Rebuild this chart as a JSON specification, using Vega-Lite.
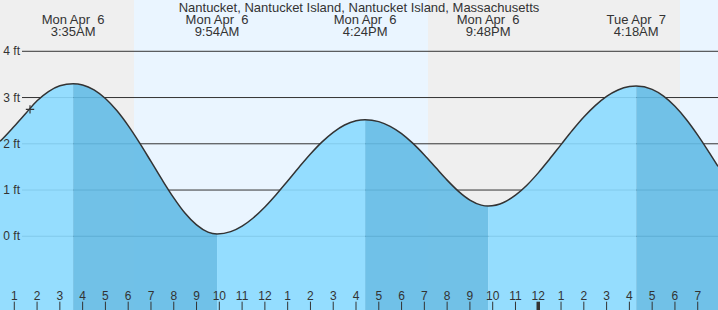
{
  "$schema": "https://vega.github.io/schema/vega-lite/v6.json",
  "width": 718,
  "height": 310,
  "padding": 0,
  "autosize": {"type": "none"},
  "background": "white",
  "config": {"view": {"stroke": null}, "text": {"font": "Liberation Sans"}},
  "datasets": {
    "sky": [
      {"start": 0.373, "end": 6.255, "kind": "night"},
      {"start": 6.255, "end": 19.16, "kind": "day"},
      {"start": 19.16, "end": 30.22, "kind": "night"},
      {"start": 30.22, "end": 31.89, "kind": "day"}
    ],
    "grid": [
      {"ft": 0, "label": "0 ft"},
      {"ft": 1, "label": "1 ft"},
      {"ft": 2, "label": "2 ft"},
      {"ft": 3, "label": "3 ft"},
      {"ft": 4, "label": "4 ft"}
    ],
    "tide": [
      {"t": 0.373, "ft": 2.055, "seg": "s1", "phase": "rise"},
      {"t": 0.5, "ft": 2.116, "seg": "s1", "phase": "rise"},
      {"t": 1.0, "ft": 2.38, "seg": "s1", "phase": "rise"},
      {"t": 1.5, "ft": 2.655, "seg": "s1", "phase": "rise"},
      {"t": 2.0, "ft": 2.93, "seg": "s1", "phase": "rise"},
      {"t": 2.5, "ft": 3.13, "seg": "s1", "phase": "rise"},
      {"t": 3.0, "ft": 3.255, "seg": "s1", "phase": "rise"},
      {"t": 3.583, "ft": 3.3, "seg": "s1", "phase": "rise"},
      {"t": 3.583, "ft": 3.3, "seg": "s2", "phase": "fall", "b": 1},
      {"t": 4.0, "ft": 3.273, "seg": "s2", "phase": "fall"},
      {"t": 4.5, "ft": 3.166, "seg": "s2", "phase": "fall"},
      {"t": 5.0, "ft": 2.979, "seg": "s2", "phase": "fall"},
      {"t": 5.5, "ft": 2.718, "seg": "s2", "phase": "fall"},
      {"t": 6.0, "ft": 2.392, "seg": "s2", "phase": "fall"},
      {"t": 6.5, "ft": 2.019, "seg": "s2", "phase": "fall"},
      {"t": 7.0, "ft": 1.618, "seg": "s2", "phase": "fall"},
      {"t": 7.5, "ft": 1.213, "seg": "s2", "phase": "fall"},
      {"t": 8.0, "ft": 0.83, "seg": "s2", "phase": "fall"},
      {"t": 8.5, "ft": 0.496, "seg": "s2", "phase": "fall"},
      {"t": 9.0, "ft": 0.245, "seg": "s2", "phase": "fall"},
      {"t": 9.5, "ft": 0.09, "seg": "s2", "phase": "fall"},
      {"t": 9.9, "ft": 0.05, "seg": "s2", "phase": "fall"},
      {"t": 9.9, "ft": 0.05, "seg": "s3", "phase": "rise", "b": 1},
      {"t": 10.5, "ft": 0.1, "seg": "s3", "phase": "rise"},
      {"t": 11.0, "ft": 0.22, "seg": "s3", "phase": "rise"},
      {"t": 11.5, "ft": 0.401, "seg": "s3", "phase": "rise"},
      {"t": 12.0, "ft": 0.633, "seg": "s3", "phase": "rise"},
      {"t": 12.5, "ft": 0.903, "seg": "s3", "phase": "rise"},
      {"t": 13.0, "ft": 1.196, "seg": "s3", "phase": "rise"},
      {"t": 13.5, "ft": 1.493, "seg": "s3", "phase": "rise"},
      {"t": 14.0, "ft": 1.778, "seg": "s3", "phase": "rise"},
      {"t": 14.5, "ft": 2.035, "seg": "s3", "phase": "rise"},
      {"t": 15.0, "ft": 2.248, "seg": "s3", "phase": "rise"},
      {"t": 15.5, "ft": 2.406, "seg": "s3", "phase": "rise"},
      {"t": 16.0, "ft": 2.497, "seg": "s3", "phase": "rise"},
      {"t": 16.4, "ft": 2.52, "seg": "s3", "phase": "rise"},
      {"t": 16.4, "ft": 2.52, "seg": "s4", "phase": "fall", "b": 1},
      {"t": 17.0, "ft": 2.479, "seg": "s4", "phase": "fall"},
      {"t": 17.5, "ft": 2.378, "seg": "s4", "phase": "fall"},
      {"t": 18.0, "ft": 2.22, "seg": "s4", "phase": "fall"},
      {"t": 18.5, "ft": 2.008, "seg": "s4", "phase": "fall"},
      {"t": 19.0, "ft": 1.758, "seg": "s4", "phase": "fall"},
      {"t": 19.5, "ft": 1.485, "seg": "s4", "phase": "fall"},
      {"t": 20.0, "ft": 1.214, "seg": "s4", "phase": "fall"},
      {"t": 20.5, "ft": 0.971, "seg": "s4", "phase": "fall"},
      {"t": 21.0, "ft": 0.782, "seg": "s4", "phase": "fall"},
      {"t": 21.5, "ft": 0.674, "seg": "s4", "phase": "fall"},
      {"t": 21.8, "ft": 0.655, "seg": "s4", "phase": "fall"},
      {"t": 21.8, "ft": 0.655, "seg": "s5", "phase": "rise", "b": 1},
      {"t": 22.5, "ft": 0.737, "seg": "s5", "phase": "rise"},
      {"t": 23.0, "ft": 0.888, "seg": "s5", "phase": "rise"},
      {"t": 23.5, "ft": 1.104, "seg": "s5", "phase": "rise"},
      {"t": 24.0, "ft": 1.371, "seg": "s5", "phase": "rise"},
      {"t": 24.5, "ft": 1.67, "seg": "s5", "phase": "rise"},
      {"t": 25.0, "ft": 1.982, "seg": "s5", "phase": "rise"},
      {"t": 25.5, "ft": 2.291, "seg": "s5", "phase": "rise"},
      {"t": 26.0, "ft": 2.578, "seg": "s5", "phase": "rise"},
      {"t": 26.5, "ft": 2.825, "seg": "s5", "phase": "rise"},
      {"t": 27.0, "ft": 3.025, "seg": "s5", "phase": "rise"},
      {"t": 27.5, "ft": 3.164, "seg": "s5", "phase": "rise"},
      {"t": 28.0, "ft": 3.238, "seg": "s5", "phase": "rise"},
      {"t": 28.3, "ft": 3.25, "seg": "s5", "phase": "rise"},
      {"t": 28.3, "ft": 3.25, "seg": "s6", "phase": "fall", "b": 1},
      {"t": 29.0, "ft": 3.176, "seg": "s6", "phase": "fall"},
      {"t": 29.5, "ft": 3.03, "seg": "s6", "phase": "fall"},
      {"t": 30.0, "ft": 2.811, "seg": "s6", "phase": "fall"},
      {"t": 30.5, "ft": 2.526, "seg": "s6", "phase": "fall"},
      {"t": 31.0, "ft": 2.188, "seg": "s6", "phase": "fall"},
      {"t": 31.5, "ft": 1.814, "seg": "s6", "phase": "fall"},
      {"t": 31.89, "ft": 1.511, "seg": "s6", "phase": "fall"}
    ],
    "extremes": [
      {"t": 3.583, "day": "Mon Apr\u00a0 6", "time": "3:35AM"},
      {"t": 9.9, "day": "Mon Apr\u00a0 6", "time": "9:54AM"},
      {"t": 16.4, "day": "Mon Apr\u00a0 6", "time": "4:24PM"},
      {"t": 21.8, "day": "Mon Apr\u00a0 6", "time": "9:48PM"},
      {"t": 28.3, "day": "Tue Apr\u00a0 7", "time": "4:18AM"}
    ],
    "hours": [
      {"h": 1, "label": "1"}, {"h": 2, "label": "2"}, {"h": 3, "label": "3"},
      {"h": 4, "label": "4"}, {"h": 5, "label": "5"}, {"h": 6, "label": "6"},
      {"h": 7, "label": "7"}, {"h": 8, "label": "8"}, {"h": 9, "label": "9"},
      {"h": 10, "label": "10"}, {"h": 11, "label": "11"}, {"h": 12, "label": "12"},
      {"h": 13, "label": "1"}, {"h": 14, "label": "2"}, {"h": 15, "label": "3"},
      {"h": 16, "label": "4"}, {"h": 17, "label": "5"}, {"h": 18, "label": "6"},
      {"h": 19, "label": "7"}, {"h": 20, "label": "8"}, {"h": 21, "label": "9"},
      {"h": 22, "label": "10"}, {"h": 23, "label": "11"}, {"h": 24, "label": "12"},
      {"h": 25, "label": "1"}, {"h": 26, "label": "2"}, {"h": 27, "label": "3"},
      {"h": 28, "label": "4"}, {"h": 29, "label": "5"}, {"h": 30, "label": "6"},
      {"h": 31, "label": "7"}
    ],
    "now": [{"t": 1.69, "ft": 2.745}],
    "title": [{"t": 16.13, "text": "Nantucket, Nantucket Island, Nantucket Island, Massachusetts"}]
  },
  "layer": [
    {
      "data": {"name": "sky"},
      "mark": {"type": "rect"},
      "encoding": {
        "x": {"field": "start", "type": "quantitative", "scale": {"domain": [0.373, 31.89], "nice": false, "zero": false}, "axis": null},
        "x2": {"field": "end"},
        "color": {"field": "kind", "type": "nominal", "scale": {"domain": ["night", "day"], "range": ["#efefef", "#eaf5ff"]}, "legend": null}
      }
    },
    {
      "data": {"name": "grid"},
      "mark": {"type": "rule", "color": "#333333", "strokeWidth": 1},
      "encoding": {
        "y": {"field": "ft", "type": "quantitative", "scale": {"domain": [-1.594, 5.109], "nice": false, "zero": false}, "axis": null},
        "x": {"datum": 1.339, "type": "quantitative", "scale": {"domain": [0.373, 31.89], "nice": false, "zero": false}, "axis": null},
        "x2": {"datum": 31.89}
      }
    },
    {
      "data": {"name": "tide"},
      "mark": {"type": "area", "interpolate": "monotone", "opacity": 0.9},
      "encoding": {
        "x": {"field": "t", "type": "quantitative", "scale": {"domain": [0.373, 31.89], "nice": false, "zero": false}, "axis": null},
        "y": {"field": "ft", "type": "quantitative", "stack": null, "scale": {"domain": [-1.594, 5.109], "nice": false, "zero": false}, "axis": null},
        "y2": {"datum": -1.594},
        "detail": {"field": "seg", "type": "nominal"},
        "fill": {"field": "phase", "type": "nominal", "scale": {"domain": ["rise", "fall"], "range": ["#8bdaff", "#63bbe5"]}, "legend": null}
      }
    },
    {
      "data": {"name": "tide"},
      "transform": [{"filter": "datum.b != 1"}],
      "mark": {"type": "line", "interpolate": "monotone", "color": "#333333", "strokeWidth": 1.5},
      "encoding": {
        "x": {"field": "t", "type": "quantitative", "scale": {"domain": [0.373, 31.89], "nice": false, "zero": false}, "axis": null},
        "y": {"field": "ft", "type": "quantitative", "scale": {"domain": [-1.594, 5.109], "nice": false, "zero": false}, "axis": null}
      }
    },
    {
      "data": {"name": "grid"},
      "mark": {"type": "text", "align": "right", "baseline": "middle", "fontSize": 12, "color": "#333333"},
      "encoding": {
        "x": {"datum": 1.251, "type": "quantitative", "scale": {"domain": [0.373, 31.89], "nice": false, "zero": false}, "axis": null},
        "y": {"field": "ft", "type": "quantitative", "scale": {"domain": [-1.594, 5.109], "nice": false, "zero": false}, "axis": null},
        "text": {"field": "label"}
      }
    },
    {
      "data": {"name": "now"},
      "mark": {"type": "point", "shape": "M-1,0H1M0,-1V1", "filled": false, "stroke": "#333333", "strokeWidth": 1.2, "size": 70, "opacity": 1},
      "encoding": {
        "x": {"field": "t", "type": "quantitative", "scale": {"domain": [0.373, 31.89], "nice": false, "zero": false}, "axis": null},
        "y": {"field": "ft", "type": "quantitative", "scale": {"domain": [-1.594, 5.109], "nice": false, "zero": false}, "axis": null}
      }
    },
    {
      "data": {"name": "hours"},
      "mark": {"type": "rule", "color": "#333333"},
      "encoding": {
        "x": {"field": "h", "type": "quantitative", "scale": {"domain": [0.373, 31.89], "nice": false, "zero": false}, "axis": null},
        "y": {"datum": -1.414, "type": "quantitative", "scale": {"domain": [-1.594, 5.109], "nice": false, "zero": false}, "axis": null},
        "y2": {"datum": -1.594},
        "strokeWidth": {"condition": {"test": "datum.h == 24", "value": 3.5}, "value": 1}
      }
    },
    {
      "data": {"name": "hours"},
      "mark": {"type": "text", "align": "center", "baseline": "alphabetic", "fontSize": 12, "color": "#333333"},
      "encoding": {
        "x": {"field": "h", "type": "quantitative", "scale": {"domain": [0.373, 31.89], "nice": false, "zero": false}, "axis": null},
        "y": {"datum": -1.377, "type": "quantitative", "scale": {"domain": [-1.594, 5.109], "nice": false, "zero": false}, "axis": null},
        "text": {"field": "label"}
      }
    },
    {
      "data": {"name": "title"},
      "mark": {"type": "text", "align": "center", "baseline": "alphabetic", "fontSize": 13, "color": "#333333"},
      "encoding": {
        "x": {"field": "t", "type": "quantitative", "scale": {"domain": [0.373, 31.89], "nice": false, "zero": false}, "axis": null},
        "y": {"datum": 4.854, "type": "quantitative", "scale": {"domain": [-1.594, 5.109], "nice": false, "zero": false}, "axis": null},
        "text": {"field": "text"}
      }
    },
    {
      "data": {"name": "extremes"},
      "mark": {"type": "text", "align": "center", "baseline": "alphabetic", "fontSize": 13, "color": "#333333"},
      "encoding": {
        "x": {"field": "t", "type": "quantitative", "scale": {"domain": [0.373, 31.89], "nice": false, "zero": false}, "axis": null},
        "y": {"datum": 4.59, "type": "quantitative", "scale": {"domain": [-1.594, 5.109], "nice": false, "zero": false}, "axis": null},
        "text": {"field": "day"}
      }
    },
    {
      "data": {"name": "extremes"},
      "mark": {"type": "text", "align": "center", "baseline": "alphabetic", "fontSize": 13, "color": "#333333"},
      "encoding": {
        "x": {"field": "t", "type": "quantitative", "scale": {"domain": [0.373, 31.89], "nice": false, "zero": false}, "axis": null},
        "y": {"datum": 4.331, "type": "quantitative", "scale": {"domain": [-1.594, 5.109], "nice": false, "zero": false}, "axis": null},
        "text": {"field": "time"}
      }
    }
  ]
}
